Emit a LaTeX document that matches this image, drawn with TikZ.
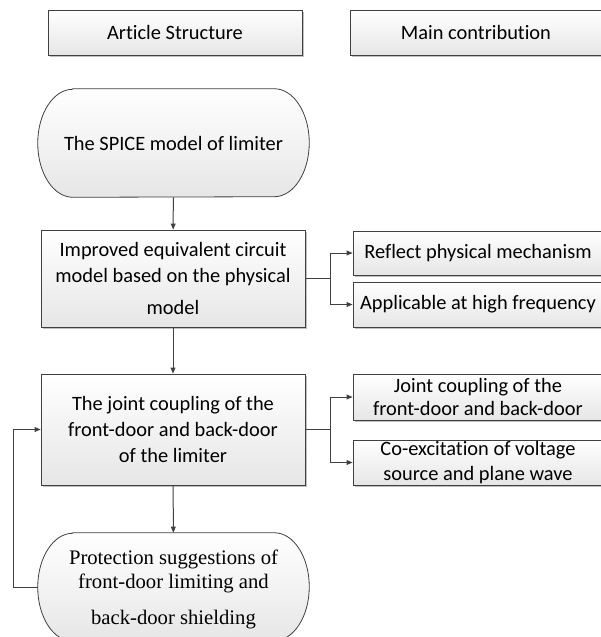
\documentclass[tikz,border=0pt]{standalone}
\usepackage{fontspec}
\setmainfont{Carlito}[Ligatures=NoCommon]
\newfontfamily\timesfont{Liberation Serif}
\usepackage{tikz}
\usetikzlibrary{arrows.meta,positioning,shadows}
\definecolor{lineg}{HTML}{404040}
\definecolor{boxg}{HTML}{E6E6E6}
\tikzset{
  stepbox/.style={draw=lineg,line width=0.6pt,top color=white,bottom color=boxg,
    inner sep=0pt,align=center,font=\fontsize{15.3}{19.5}\selectfont,
    drop shadow={shadow xshift=1.4pt,shadow yshift=-1.4pt,fill=black!45,opacity=0.55}},
  hdrbox/.style={stepbox,minimum height=33.75pt},
  leftbox/.style={stepbox,minimum width=198pt},
  rightbox/.style={stepbox,minimum width=187.5pt,minimum height=33.75pt},
  termnode/.style={inner sep=0pt,align=center,minimum width=203.25pt,minimum height=81pt},
  termline/.style={draw=lineg,line width=0.6pt,top color=white,bottom color=boxg},
  flowarrow/.style={-{Triangle[length=4.5pt,width=3.6pt]},lineg,line width=0.75pt},
}
\begin{document}
\begin{tikzpicture}[x=0.75pt,y=-0.75pt]
  \useasboundingbox (0,0) rectangle (601,637);
  % column headers
  \node[hdrbox,minimum width=190.5pt] (hdrart) at (175,32.5) {Article Structure};
  \node[hdrbox,minimum width=189pt] (hdrcon) at (476,32.5) {Main contribution};
  % article structure
  \node[termnode] (spice) at (173.5,143) {};
  \node[leftbox,minimum height=72.75pt] (improved) at (173,278.5)
    {Improved equivalent circuit\\model based on the physical\\[4pt]model};
  \node[leftbox,minimum height=83.25pt] (joint) at (173,429.5)
    {The joint coupling of the\\front-door and back-door\\of the limiter};
  \node[termnode] (prot) at (173.5,587) {};
  \foreach \n in {spice,prot}
    \path[termline] ([xshift=26.25pt]\n.north west) -- ([xshift=-26.25pt]\n.north east)
      arc[start angle=90,end angle=-90,x radius=26.25pt,y radius=40.5pt]
      -- ([xshift=26.25pt]\n.south west)
      arc[start angle=270,end angle=90,x radius=26.25pt,y radius=40.5pt] -- cycle;
  \node[font=\fontsize{15.3}{19.5}\selectfont] at (spice) {The SPICE model of limiter};
  \node[align=center,font=\timesfont\fontsize{15.5}{17.5}\selectfont] at ([yshift=-2pt]prot.center)
    {Protection suggestions of\\front-door limiting and\\[10pt]back-door shielding};
  % main contribution
  \node[rightbox,minimum height=33pt] (reflect) at (478,253) {Reflect physical mechanism};
  \node[rightbox] (applic) at (478,304.5) {Applicable at high frequency};
  \node[rightbox,minimum height=34.5pt,font=\fontsize{15.3}{17.5}\selectfont] (jcright) at (478,397)
    {Joint coupling of the\\front-door and back-door};
  \node[rightbox,font=\fontsize{15.3}{18.5}\selectfont] (coex) at (478,462.5)
    {Co-excitation of voltage\\source and plane wave};
  % connectors
  \draw[flowarrow] (spice) -- (improved);
  \draw[flowarrow] (improved) -- (joint);
  \draw[flowarrow] (joint) -- (prot);
  \draw[flowarrow] (improved.east) -- ++(25,0) |- (reflect.west);
  \draw[flowarrow] (improved.east) -- ++(25,0) |- (applic.west);
  \draw[flowarrow] (joint.east) -- ++(25,0) |- (jcright.west);
  \draw[flowarrow] (joint.east) -- ++(25,0) |- (coex.west);
  \draw[flowarrow] (prot.west) -- ++(-24,0) |- (joint.west);
\end{tikzpicture}
\end{document}
